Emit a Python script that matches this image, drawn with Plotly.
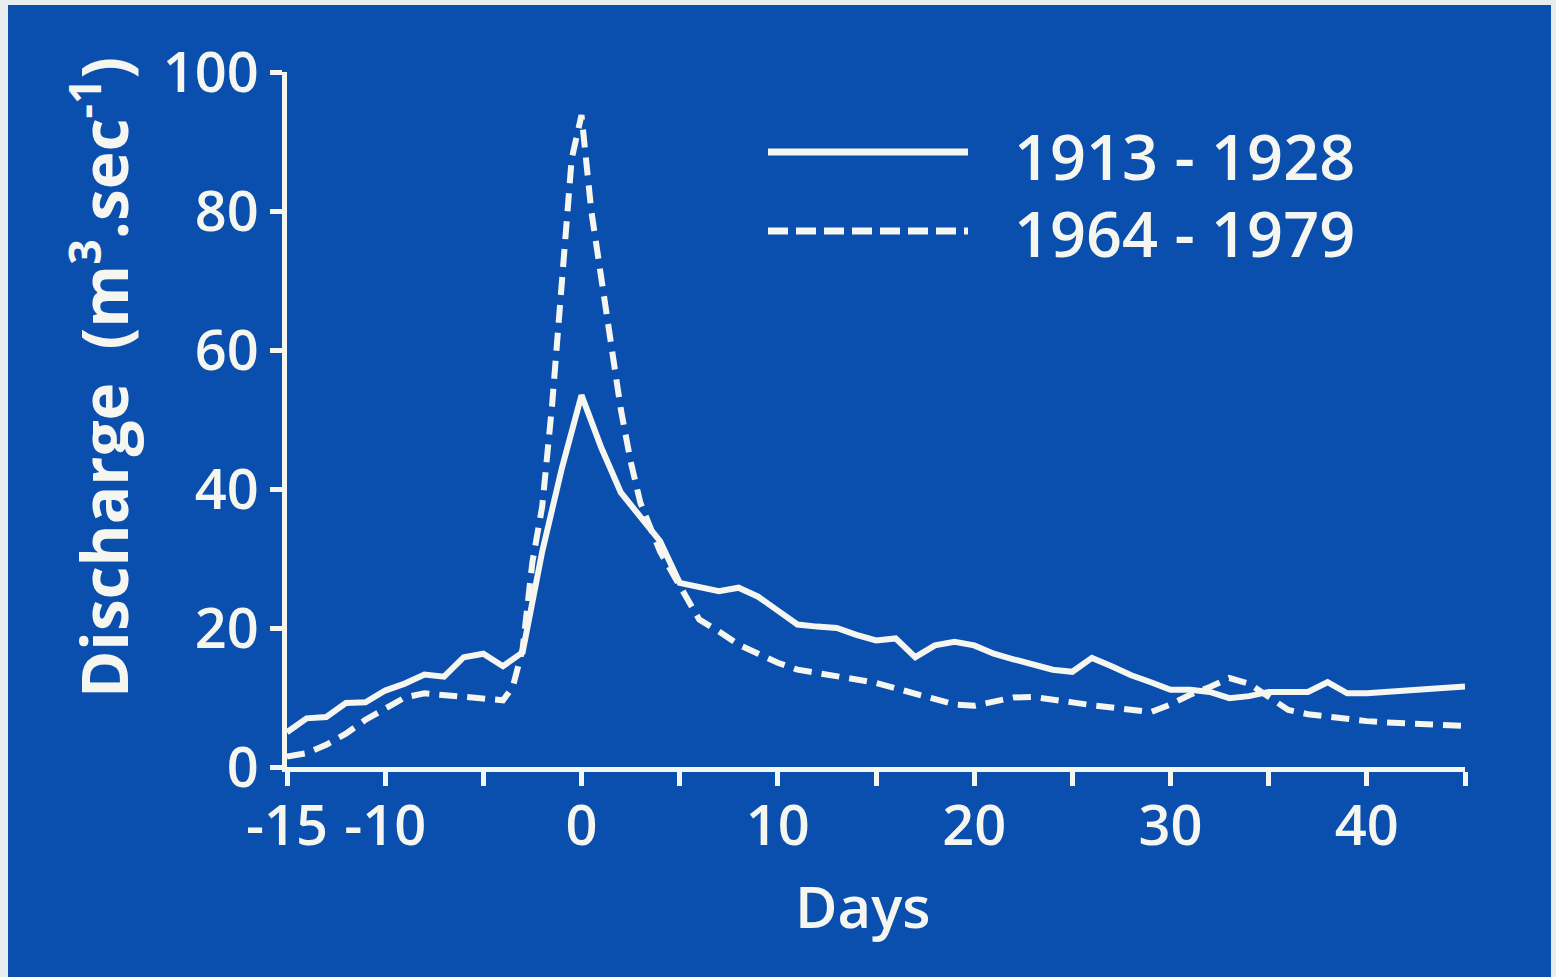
import plotly.graph_objects as go

# ---- data ----
days_1913 = list(range(-15, 46))
discharge_1913 = [5.0, 7.0, 7.2, 9.2, 9.3, 11.0, 12.0, 13.3, 13.0, 15.8, 16.3, 14.5, 16.5,
                  31.0, 43.0, 53.5, 46.0, 39.5, 36.0, 32.5, 26.5, 25.8, 25.3, 25.8, 24.5,
                  22.5, 20.5, 20.2, 20.0, 19.0, 18.2, 18.5, 15.8, 17.5, 18.0, 17.5, 16.3,
                  15.5, 14.7, 14.0, 13.7, 15.7, 14.5, 13.2, 12.2, 11.1, 11.1, 10.8, 9.9,
                  10.2, 10.8, 10.8, 10.8, 12.2, 10.6, 10.6, 10.8, 11.0, 11.2, 11.4, 11.6]

days_1964 = [-15, -14, -13, -12, -11, -10, -9, -8, -7, -6, -5, -4, -3.5, -3, -2.5, -2, -1.5,
             -1, -0.5, 0, 0.5, 1, 1.5, 2, 2.5, 3, 4, 5, 6, 7, 8, 9, 10, 11, 12, 13, 14, 15,
             16, 17, 18, 19, 20, 21, 22, 23, 24, 25, 26, 27, 28, 29, 30, 31, 32, 33, 34, 35,
             36, 37, 38, 39, 40, 41, 42, 43, 44, 45]
discharge_1964 = [1.5, 2.0, 3.2, 4.8, 6.8, 8.5, 10.0, 10.6, 10.3, 10.0, 9.7, 9.6, 11.5, 17.0,
                  29.5, 37.5, 52.0, 70.0, 87.5, 93.8, 80.0, 70.5, 61.0, 51.5, 44.0, 38.0,
                  31.0, 26.0, 21.2, 19.5, 17.6, 16.3, 15.0, 14.0, 13.6, 13.1, 12.6, 12.1,
                  11.3, 10.4, 9.7, 9.0, 8.8, 9.4, 10.0, 10.1, 9.8, 9.3, 8.9, 8.6, 8.1, 7.9,
                  9.0, 10.4, 11.5, 12.8, 12.0, 10.0, 8.2, 7.6, 7.2, 6.9, 6.6, 6.4, 6.3, 6.2,
                  6.0, 5.9]

x_tick_vals = [-15, -10, 0, 10, 20, 30, 40]
x_tick_text = ["-15", "-10", "0", "10", "20", "30", "40"]
x_minor_tick_vals = [-5, 5, 15, 25, 35, 45]
y_tick_vals = [0, 20, 40, 60, 80, 100]
y_tick_text = ["0", "20", "40", "60", "80", "100"]
series_names = ["1913 - 1928", "1964 - 1979"]

# ---- style ----
BLUE = "#0b4fae"
GREY = "#e8edf0"
WHITE = "#f6f6f0"
FONT = "Open Sans"

fig = go.Figure()
fig.add_trace(go.Scatter(x=days_1913, y=discharge_1913, mode="lines", name=series_names[0],
                         line=dict(color=WHITE, width=6), showlegend=False))
fig.add_trace(go.Scatter(x=days_1964, y=discharge_1964, mode="lines", name=series_names[1],
                         line=dict(color=WHITE, width=6, dash="18px,10px"), showlegend=False))

# slide background with grey border
fig.add_shape(type="rect", xref="paper", yref="paper", layer="below",
              x0=(8 - 287) / 1178, x1=(1551 - 287) / 1178,
              y0=(767 - 990) / 695, y1=(767 - 5) / 695,
              fillcolor=BLUE, line=dict(width=0))

# manual legend
leg_x0, leg_x1 = (768 - 287) / 1178, (968 - 287) / 1178
fig.add_shape(type="line", xref="paper", yref="paper", x0=leg_x0, x1=leg_x1,
              y0=(767 - 152) / 695, y1=(767 - 152) / 695, line=dict(color=WHITE, width=7))
fig.add_shape(type="line", xref="paper", yref="paper", x0=leg_x0, x1=leg_x1,
              y0=(767 - 231) / 695, y1=(767 - 231) / 695,
              line=dict(color=WHITE, width=7, dash="20px,8px"))
for name, ypx in zip(series_names, [155, 232]):
    fig.add_annotation(text=name, xref="paper", yref="paper", x=(1012 - 287) / 1178,
                       y=(767 - ypx) / 695, xanchor="left", yanchor="middle", showarrow=False,
                       font=dict(family=FONT, size=63, color=WHITE, weight=600))

# axis titles
fig.add_annotation(text="Discharge  (m<sup>3</sup>.sec<sup>-1</sup>)", xref="paper", yref="paper",
                   x=(100 - 287) / 1178, y=(767 - 378) / 695, textangle=-90,
                   xanchor="center", yanchor="middle", showarrow=False,
                   font=dict(family=FONT, size=64, color=WHITE, weight="bold"))
fig.add_annotation(text="Days", xref="paper", yref="paper",
                   x=(862 - 287) / 1178, y=(767 - 905) / 695,
                   xanchor="center", yanchor="middle", showarrow=False,
                   font=dict(family=FONT, size=58, color=WHITE, weight=600))

fig.update_xaxes(range=[-15, 45], tickvals=x_tick_vals, ticktext=x_tick_text,
                 showgrid=False, zeroline=False, showline=True, linecolor=WHITE, linewidth=5,
                 ticks="outside", ticklen=14, tickwidth=5, tickcolor=WHITE,
                 ticklabelstandoff=-8,
                 minor=dict(tickvals=x_minor_tick_vals, ticks="outside", ticklen=14,
                            tickwidth=5, tickcolor=WHITE, showgrid=False),
                 tickfont=dict(family=FONT, size=56, color=WHITE, weight=600))
fig.update_yaxes(range=[0, 100], tickvals=y_tick_vals, ticktext=y_tick_text,
                 showgrid=False, zeroline=False, showline=True, linecolor=WHITE, linewidth=5,
                 ticks="outside", ticklen=12, tickwidth=5, tickcolor=WHITE,
                 tickfont=dict(family=FONT, size=56, color=WHITE, weight=600))

fig.update_layout(width=1556, height=977, paper_bgcolor=GREY, plot_bgcolor="rgba(0,0,0,0)",
                  margin=dict(l=287, r=91, t=72, b=210), showlegend=False)

fig.write_html("out.html", config={"displayModeBar": False},
               post_script="document.body.style.margin='0';")
